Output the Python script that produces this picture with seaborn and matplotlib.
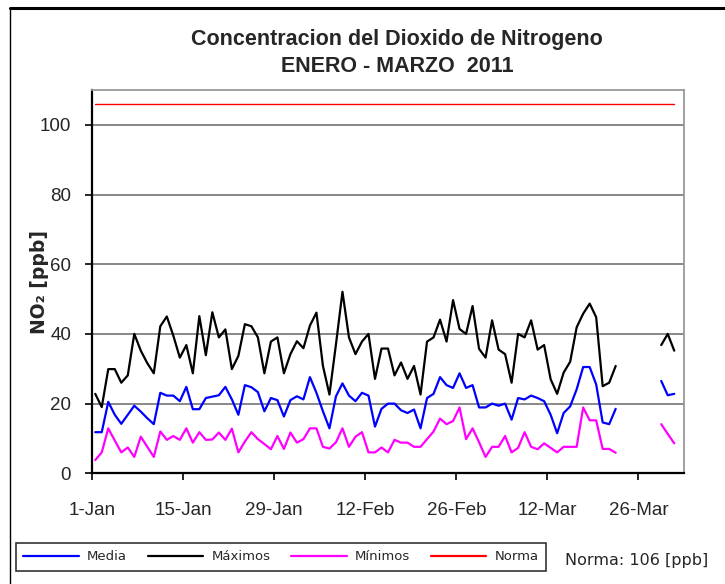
import matplotlib
matplotlib.use("Agg")
import matplotlib.pyplot as plt
from matplotlib.lines import Line2D
import seaborn as sns
import numpy as np
import pandas as pd

nan = None

# valores diarios 1-Ene ... 31-Mar 2011 (ppb); sin datos del 23 al 28 de marzo
media = [11.8, 11.8, 20.5, 16.8, 14.2, 16.8, 19.4, 17.7, 15.8, 14.1,
         23.1, 22.3, 22.3, 20.7, 24.8, 18.4, 18.4, 21.6, 22.0, 22.4,
         24.8, 21.2, 16.8, 25.3, 24.7, 23.3, 17.8, 21.6, 21.0, 16.3,
         21.0, 22.1, 21.2, 27.6, 23.1, 17.8, 12.9, 22.1, 25.8, 22.3,
         20.7, 23.1, 22.3, 13.4, 18.5, 20.0, 20.0, 18.1, 17.3, 18.3,
         12.9, 21.6, 22.8, 27.6, 25.3, 24.5, 28.7, 24.5, 25.3, 18.9,
         18.9, 20.0, 19.4, 20.0, 15.4, 21.6, 21.2, 22.3, 21.6, 20.7,
         16.8, 11.5, 17.3, 19.2, 24.1, 30.5, 30.5, 25.5, 14.6, 14.1,
         18.5, nan, nan, nan, nan, nan, nan, 26.5, 22.4, 22.8]

maximos = [22.8, 19.0, 29.9, 29.9, 26.0, 28.1, 40.0, 35.2, 31.6, 28.7,
           42.2, 45.0, 39.5, 33.2, 36.8, 28.7, 45.1, 33.9, 46.2, 39.0,
           41.3, 29.9, 33.7, 42.8, 42.2, 39.0, 28.7, 37.8, 39.0, 28.7,
           34.2, 37.9, 35.9, 42.4, 46.1, 30.8, 22.6, 37.0, 52.1, 39.0,
           34.2, 37.8, 40.0, 27.1, 35.8, 35.8, 28.1, 31.8, 27.1, 30.8,
           22.6, 37.8, 39.0, 44.1, 37.8, 49.7, 41.4, 40.0, 48.0, 35.7,
           33.2, 43.9, 35.5, 34.2, 26.0, 40.0, 39.0, 43.9, 35.5, 36.8,
           27.0, 22.8, 28.9, 32.0, 41.9, 45.8, 48.7, 44.8, 25.0, 26.0,
           30.8, nan, nan, nan, nan, nan, nan, 36.8, 40.0, 35.2]

minimos = [3.8, 6.0, 12.9, 9.4, 6.0, 7.4, 4.7, 10.5, 7.6, 4.7,
           12.0, 9.6, 10.7, 9.6, 12.9, 8.8, 11.8, 9.6, 9.7, 11.7,
           9.6, 12.8, 6.0, 9.1, 11.8, 9.8, 8.4, 6.9, 10.7, 7.0,
           11.7, 8.8, 9.8, 12.9, 12.9, 7.6, 7.1, 8.9, 12.9, 7.6,
           10.5, 11.8, 6.0, 6.0, 7.4, 6.0, 9.6, 8.8, 8.8, 7.6,
           7.6, 9.8, 12.0, 15.7, 14.1, 15.0, 18.9, 9.8, 12.9, 8.9,
           4.7, 7.6, 7.6, 10.7, 6.0, 7.3, 11.8, 7.6, 6.9, 8.6,
           7.3, 6.0, 7.6, 7.6, 7.6, 18.9, 15.2, 15.2, 7.0, 7.0,
           5.9, nan, nan, nan, nan, nan, nan, 14.1, 11.3, 8.6]

norma = 106
dias = list(range(len(media)))
etiquetas_x = ['1-Jan', '15-Jan', '29-Jan', '12-Feb', '26-Feb', '12-Mar', '26-Mar']

series = {'Media': media, 'Máximos': maximos, 'Mínimos': minimos}
colores = {'Media': '#0000FF', 'Máximos': '#000000', 'Mínimos': '#FF00FF'}

# tabla larga; cada tramo sin huecos es una unidad para no unir el vacío
rows = []
for nombre, vals in series.items():
    tramo = 0
    for d, v in zip(dias, vals):
        if v is None:
            tramo += 1
            continue
        rows.append({'dia': d, 'valor': v, 'serie': nombre, 'tramo': tramo})
df = pd.DataFrame(rows)
df_norma = pd.DataFrame({'dia': dias, 'valor': [norma] * len(dias)})

sns.set_style('white')
plt.rcParams['font.family'] = ['Liberation Sans', 'DejaVu Sans']

W, H = 725, 584
fig = plt.figure(figsize=(W / 100, H / 100), dpi=100)
ax = fig.add_axes([92 / W, 1 - 473.3 / H, 592 / W, 383.3 / H])

sns.lineplot(data=df, x='dia', y='valor', hue='serie', units='tramo',
             estimator=None, palette=colores, linewidth=1.6, legend=False,
             ax=ax, zorder=3)
sns.lineplot(data=df_norma, x='dia', y='valor', color='#FF0000',
             linewidth=1.0, ax=ax, zorder=3)

ax.set_xlim(-0.5, 90.5)
ax.set_ylim(0, 110)
ax.set_yticks(range(0, 101, 20))
ax.set_xticks([-0.5 + 14 * k for k in range(len(etiquetas_x))])
ax.set_xticklabels(etiquetas_x)
ax.grid(axis='y', color='#888888', linewidth=1.4, zorder=1)
ax.grid(axis='x', visible=False)
ax.set_axisbelow(True)

ax.tick_params(axis='y', direction='out', length=5, width=1.2, pad=10,
               labelsize=13.5, left=True, color='black')
ax.tick_params(axis='x', direction='out', length=5, width=1.2, pad=16,
               labelsize=13.5, bottom=True, color='black')

for s in ['left', 'bottom']:
    ax.spines[s].set_color('black')
    ax.spines[s].set_linewidth(1.6)
for s in ['top', 'right']:
    ax.spines[s].set_color('#999999')
    ax.spines[s].set_linewidth(1.3)

ax.set_xlabel('')
ax.set_ylabel('NO₂ [ppb]', fontsize=13.5, fontweight='bold',
              family=['DejaVu Sans'])
ax.yaxis.set_label_coords(-0.072, 0.5)

fig.text(397 / W, 1 - 40 / H, 'Concentracion del Dioxido de Nitrogeno',
         ha='center', va='center', fontsize=15.5, fontweight='bold')
fig.text(397 / W, 1 - 67 / H, 'ENERO - MARZO  2011',
         ha='center', va='center', fontsize=15.5, fontweight='bold')

# marco exterior (izquierda y arriba)
fig.add_artist(Line2D([10 / W, 10 / W], [0, 1 - 8 / H],
                      transform=fig.transFigure, color='black', lw=1.0))
fig.add_artist(Line2D([10 / W, 1], [1 - 8 / H, 1 - 8 / H],
                      transform=fig.transFigure, color='black', lw=2.2))

handles = [Line2D([], [], color=colores['Media'], lw=1.6),
           Line2D([], [], color=colores['Máximos'], lw=1.6),
           Line2D([], [], color=colores['Mínimos'], lw=1.6),
           Line2D([], [], color='#FF0000', lw=1.6)]
leg = fig.legend(handles, ['Media', 'Máximos', 'Mínimos', 'Norma'],
                 loc='center', bbox_to_anchor=(281 / W, 1 - 557 / H),
                 ncol=4, frameon=True, fancybox=False, shadow=False,
                 edgecolor='black', handlelength=4.2,
                 columnspacing=1.6, handletextpad=0.6, borderpad=0.6,
                 prop={'family': 'DejaVu Sans', 'size': 9.5})
leg.get_frame().set_linewidth(1.2)

fig.text(565 / W, 1 - 560 / H, f'Norma: {norma} [ppb]', ha='left',
         va='center', fontsize=11.5, family='DejaVu Sans')

fig.savefig('out.png', dpi=100)
plt.close(fig)
